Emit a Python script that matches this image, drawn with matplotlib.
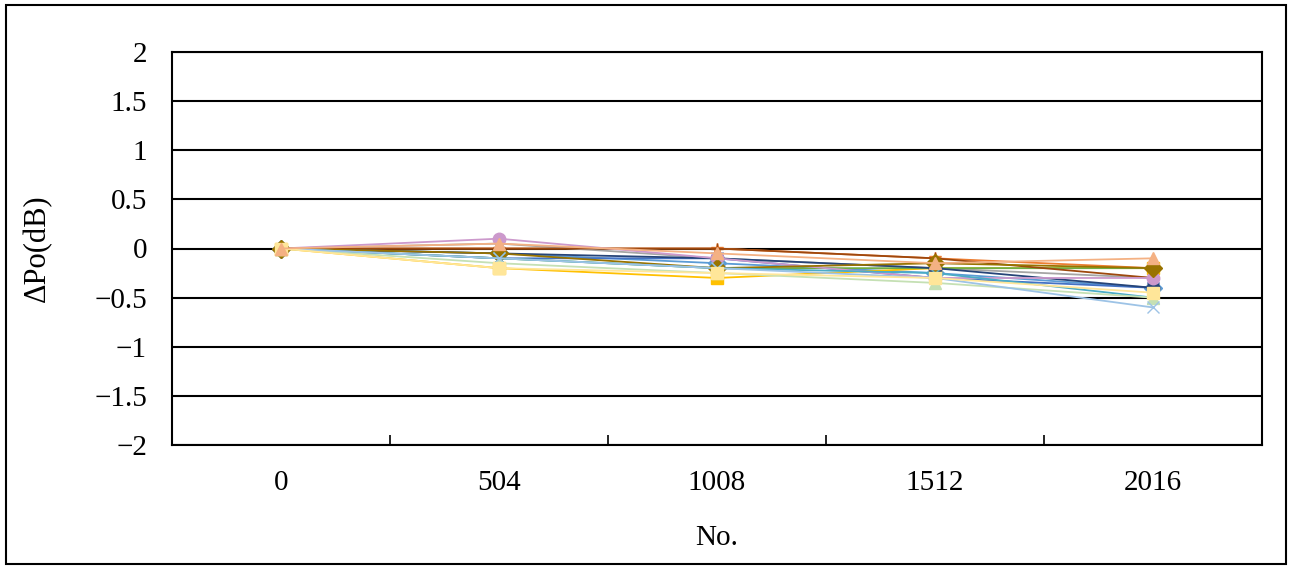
import matplotlib
matplotlib.use("Agg")
import matplotlib.pyplot as plt
from matplotlib.patches import Rectangle
import numpy as np

categories = ["0", "504", "1008", "1512", "2016"]
y_ticks = [-2, -1.5, -1, -0.5, 0, 0.5, 1, 1.5, 2]
y_tick_labels = ["\u22122", "\u22121.5", "\u22121", "\u22120.5", "0", "0.5", "1", "1.5", "2"]

s01 = [0, -0.05, -0.15, -0.25, -0.40]
s02 = [0, 0.00, 0.00, -0.10, -0.20]
s03 = [0, 0.05, -0.10, -0.20, -0.30]
s04 = [0, -0.20, -0.30, -0.20, -0.20]
s05 = [0, -0.10, -0.10, -0.30, -0.40]
s06 = [0, -0.10, -0.20, -0.20, -0.20]
s07 = [0, -0.05, -0.10, -0.20, -0.40]
s08 = [0, 0.00, 0.00, -0.10, -0.30]
s09 = [0, 0.10, -0.10, -0.30, -0.30]
s10 = [0, -0.05, -0.20, -0.15, -0.20]
s11 = [0, -0.10, -0.20, -0.25, -0.50]
s12 = [0, -0.15, -0.25, -0.35, -0.50]
s13 = [0, -0.10, -0.20, -0.30, -0.60]
s14 = [0, -0.20, -0.25, -0.30, -0.45]
s15 = [0, 0.05, -0.05, -0.15, -0.10]

series = [s01, s02, s03, s04, s05, s06, s07, s08, s09, s10, s11, s12, s13, s14, s15]
colors = ["#5B9BD5", "#ED7D31", "#A5A5A5", "#FFC000", "#4472C4", "#70AD47",
          "#264478", "#9E480E", "#CC99CC", "#997300", "#4BACC6", "#C5E0B4",
          "#9DC3E6", "#FFE699", "#F4B183"]
markers = ["D", "*", "^", "s", "x", "*", "o", "+", "o", "D", "x", "^",
           "x", "s", "^"]

font = "Liberation Serif"
fs = 21

fig = plt.figure(figsize=(12.91, 5.67), dpi=100)
ax = fig.add_axes([172/1291, 1-445/567, (1262-172)/1291, (445-52)/567])

x = np.arange(len(categories))
for vals, c, m in zip(series, colors, markers):
    ax.plot(x, vals, color=c, lw=1.3, marker=m, markersize=9,
            markerfacecolor=c, markeredgecolor=c, zorder=3)

ax.set_xlim(-0.5, len(categories) - 0.5)
ax.set_ylim(-2, 2)

for yv in y_ticks:
    ax.axhline(yv, color="black", lw=1.5, zorder=1)

for sp in ax.spines.values():
    sp.set_linewidth(1.5)
    sp.set_color("black")

ax.set_yticks(y_ticks)
ax.set_yticklabels(y_tick_labels, fontfamily=font, fontsize=fs)
ax.tick_params(axis="y", length=0, pad=18)

ax.set_xticks(np.arange(0.5, len(categories) - 0.5, 1.0))
ax.set_xticklabels([])
ax.tick_params(axis="x", which="major", direction="in", length=7, width=1.2)
ax.set_xticks(x, minor=True)
ax.set_xticklabels(categories, minor=True, fontfamily=font, fontsize=fs)
ax.tick_params(axis="x", which="minor", length=0, pad=18)

ax.set_ylabel("ΔPo(dB)", fontfamily=font, fontsize=22)
ax.yaxis.set_label_coords(-(172-52)/1090, 0.5)
ax.set_xlabel("No.", fontfamily=font, fontsize=fs)
ax.xaxis.set_label_coords(0.5, -(525-445)/393)

fig.patches.append(Rectangle((6/1291, 3/567), (1286-6)/1291, (562-3)/567,
                             transform=fig.transFigure, fill=False,
                             edgecolor="black", lw=1.5))

fig.savefig("out.png", dpi=100)
